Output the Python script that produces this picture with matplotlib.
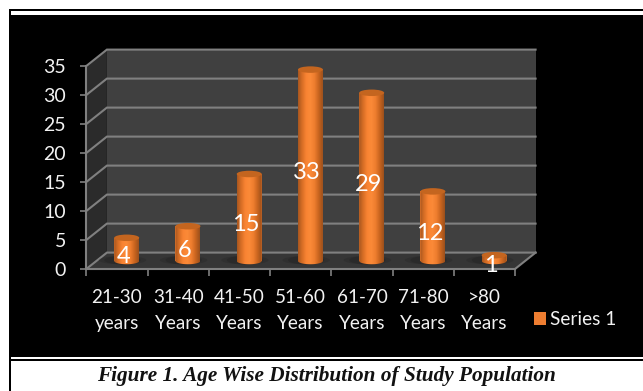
import numpy as np
import matplotlib
matplotlib.use("Agg")
import matplotlib.pyplot as plt
from matplotlib.patches import Rectangle, Polygon, Ellipse, Patch, PathPatch
from matplotlib.path import Path
from matplotlib.colors import LinearSegmentedColormap

categories = ["21-30\nyears", "31-40\nYears", "41-50\nYears", "51-60\nYears",
              "61-70\nYears", "71-80\nYears", ">80\nYears"]
values = [4, 6, 15, 33, 29, 12, 1]
y_ticks = [0, 5, 10, 15, 20, 25, 30, 35]
series_name = "Series 1"
caption = "Figure 1. Age Wise Distribution of Study Population"

W, H = 643, 391
fig = plt.figure(figsize=(W / 100, H / 100), dpi=100, facecolor="white")
plt.rcParams["font.family"] = ["Lato", "DejaVu Sans"]

# page furniture in pixel coordinates
bg = fig.add_axes([0, 0, 1, 1], zorder=0)
bg.set_xlim(0, W)
bg.set_ylim(H, 0)
bg.axis("off")
for x, y, w, h, c in [(9.3, 9, W, 382, "black"), (11, 11, W, 4, "white"),
                      (11, 357, W, 2, "white"), (11, 361, W, 30, "white")]:
    bg.add_patch(Rectangle((x, y), w, h, fc=c, ec="none"))
bg.text(326.5, 376.5, caption, family="Liberation Serif", weight="bold", style="italic",
        fontsize=15.3, color="#111111", ha="center", va="center")

# 3D box
L, R, B, T = 86.3, 515, 269, 66
DX, DY = 20.6, 16.4
bg.add_patch(Polygon([(L + DX, T - DY), (R + DX, T - DY), (R + DX, B - DY), (L + DX, B - DY)],
                     fc="#404040", ec="none"))
bg.add_patch(Polygon([(L, T), (L + DX, T - DY), (L + DX, B - DY), (L, B)], fc="#2b2b2b", ec="none"))
bg.add_patch(Polygon([(L, B), (L + DX, B - DY), (R + DX, B - DY), (R, B)], fc="#363636", ec="none"))

ax = fig.add_axes([L / W, 1 - B / H, (R - L) / W, (B - T) / H], zorder=1)
ax.patch.set_alpha(0)
ax.set_xlim(0, len(values))
ax.set_ylim(0, 35)
pxx = len(values) / (R - L)
pxy = 35 / (B - T)
ddx, ddy = DX * pxx, DY * pxy
GRID = "#808080"

# gridlines on side and back wall
for v in y_ticks:
    ax.plot([0, ddx, len(values) + ddx], [v, v + ddy, v + ddy], color=GRID, lw=1.5,
            clip_on=False, zorder=1, solid_joinstyle="miter")
ax.plot([len(values), len(values) + ddx], [0, ddy], color=GRID, lw=1.5, clip_on=False, zorder=1)

# axes
for s in ["top", "right"]:
    ax.spines[s].set_visible(False)
for s in ["left", "bottom"]:
    ax.spines[s].set_color(GRID)
    ax.spines[s].set_linewidth(1.5)
ax.set_yticks(y_ticks)
ax.set_xticks(np.arange(len(values) + 1))
ax.set_xticklabels([])
ax.set_xticks(np.arange(len(values)) + 0.5, minor=True)
ax.set_xticklabels(categories, minor=True, fontsize=13.6, color="#f2f2f2", linespacing=1.65)
ax.tick_params(axis="x", which="minor", length=0, pad=14.5)
ax.tick_params(axis="x", which="major", length=5, width=1.2, color=GRID)
ax.tick_params(axis="y", length=4.5, width=1.2, color=GRID, labelsize=14, labelcolor="#f2f2f2", pad=10)

# bars
cmap = LinearSegmentedColormap.from_list("cyl", ["#a9571f", "#d96f26", "#f98433", "#fb8a38",
                                                 "#ee7d2e", "#c9651f", "#9c501c"])
grad = np.linspace(0, 1, 64).reshape(1, -1)
base = 8 * pxy
off = 9.8 * pxx
bw = 25 * pxx
eh = 6.5 * pxy
centers = np.arange(len(values)) + 0.5 + off
for a, s in [(0.25, 1.9), (0.35, 1.45)]:
    for c in centers:
        ax.add_patch(Ellipse((c - 0.07, base + 0.15), bw * s, eh * 1.3, fc="#1f1f1f", ec="none",
                             alpha=a, zorder=2, clip_on=False))
bars = ax.bar(centers, values, bottom=base, width=bw, color="#ed7d31", zorder=3, clip_on=False,
              label=series_name)
for rect, c, v in zip(bars, centers, values):
    t = np.linspace(np.pi, 2 * np.pi, 40)
    xs = c + bw / 2 * np.cos(t)
    ys = base + eh / 2 * np.sin(t)
    verts = list(zip(xs, ys)) + [(c + bw / 2, base + v), (c - bw / 2, base + v), (xs[0], ys[0])]
    clip = PathPatch(Path(verts), transform=ax.transData, fc="none", ec="none")
    ax.add_patch(clip)
    clip.set_clip_on(False)
    im = ax.imshow(grad, extent=[c - bw / 2, c + bw / 2, base - eh, base + v], cmap=cmap,
                   aspect="auto", zorder=3.5, clip_on=True)
    im.set_clip_path(clip)
    ax.add_patch(Ellipse((c, base + v), bw, eh, fc="#c4651f", ec="none", zorder=4, clip_on=False))
    ax.annotate(str(v), (c, v / 2), xytext=(-2.6, 0.6), textcoords="offset points", ha="center",
                va="center", color="white", fontsize=17, zorder=6, annotation_clip=False)
ax.set_xlim(0, len(values))
ax.set_ylim(0, 35)

# legend
ax.legend(handles=[Patch(fc="#ed7d31", ec="none", label=series_name)], frameon=False,
          loc="center left", bbox_to_anchor=((534 - L) / (R - L), (B - 319.5) / (B - T)),
          handlelength=0.62, handleheight=0.7, handletextpad=0.2, borderpad=0, borderaxespad=0,
          labelcolor="#f2f2f2", fontsize=13.8)

fig.savefig("out.png", dpi=100, facecolor="white")
